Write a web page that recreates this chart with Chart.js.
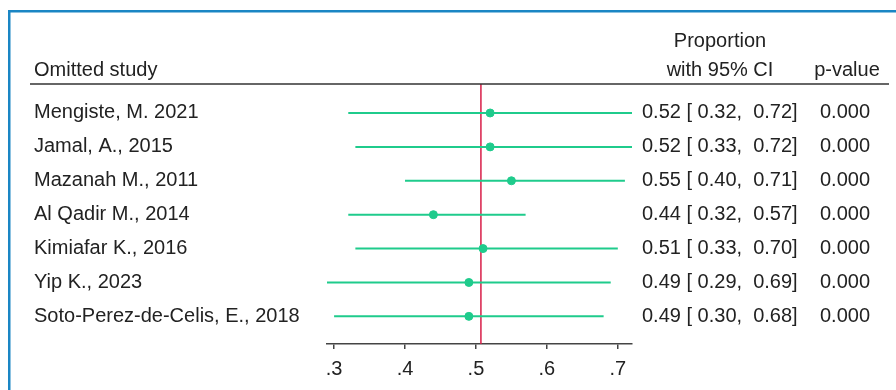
<!DOCTYPE html>
<html>
<head>
<meta charset="utf-8">
<script src="https://cdn.jsdelivr.net/npm/chart.js@4"></script>
<style>
  html, body { margin: 0; padding: 0; background: #fff; }
  #wrap { position: relative; width: 896px; height: 390px; }
  canvas { display: block; }
</style>
</head>
<body>
<div id="wrap"><canvas id="c" width="896" height="390"></canvas></div>
<script>
const studies = [
  "Mengiste, M. 2021",
  "Jamal, A., 2015",
  "Mazanah M., 2011",
  "Al Qadir M., 2014",
  "Kimiafar K., 2016",
  "Yip K., 2023",
  "Soto-Perez-de-Celis, E., 2018"
];
const estimates = [0.52, 0.52, 0.55, 0.44, 0.51, 0.49, 0.49];
const lowerCI   = [0.32, 0.33, 0.40, 0.32, 0.33, 0.29, 0.30];
const upperCI   = [0.72, 0.72, 0.71, 0.57, 0.70, 0.69, 0.68];
const pValues   = [0.000, 0.000, 0.000, 0.000, 0.000, 0.000, 0.000];
const overall   = 0.507;
const tickValues = [0.3, 0.4, 0.5, 0.6, 0.7];
const tickLabels = [".3", ".4", ".5", ".6", ".7"];
const headers = { study: "Omitted study", est1: "Proportion", est2: "with 95% CI", p: "p-value" };

const GREEN = "#1fcb8c";
const RED = "#d81f48";
const TEXT = "#222222";
const FAMILY = '"Liberation Sans", Arial, sans-serif';
const FONT = '20px ' + FAMILY;

const rows = studies.map((s, i) => i + 1);
const yMin = 0.145, yMax = 7.815;
const xMin = 0.29, xMax = 0.72;

const ciDatasets = studies.map((s, i) => ({
  type: "line",
  data: [{ x: lowerCI[i], y: rows[i] }, { x: upperCI[i], y: rows[i] }],
  borderColor: GREEN,
  borderWidth: 2,
  pointRadius: 0,
  order: 2
}));

const textPlugin = {
  id: "forestText",
  afterDraw(chart) {
    const ctx = chart.ctx;
    const ys = chart.scales.y;
    ctx.save();
    // blue frame
    ctx.fillStyle = "#1a86c4";
    ctx.fillRect(8, 10, 896 - 8, 2.5);
    ctx.fillRect(8, 10, 2.5, 390 - 10);
    // header rule
    ctx.strokeStyle = "#333";
    ctx.lineWidth = 1.5;
    ctx.beginPath();
    ctx.moveTo(30, chart.chartArea.top);
    ctx.lineTo(889, chart.chartArea.top);
    ctx.stroke();

    ctx.font = FONT;
    ctx.fillStyle = TEXT;
    ctx.textBaseline = "middle";
    ctx.textAlign = "left";
    ctx.fillText(headers.study, 34, 70);
    ctx.textAlign = "center";
    ctx.fillText(headers.est1, 720, 41);
    ctx.fillText(headers.est2, 720, 70);
    ctx.fillText(headers.p, 847, 70);

    studies.forEach((s, i) => {
      const y = ys.getPixelForValue(rows[i]);
      ctx.textAlign = "left";
      ctx.fillText(s, 34, y);
      const txt = estimates[i].toFixed(2) + " [ " + lowerCI[i].toFixed(2) + ",  " + upperCI[i].toFixed(2) + "]";
      ctx.fillText(txt, 642, y);
      ctx.textAlign = "right";
      ctx.fillText(pValues[i].toFixed(3), 870, y);
    });
    ctx.restore();
  }
};

new Chart(document.getElementById("c"), {
  type: "scatter",
  data: {
    datasets: [
      ...ciDatasets,
      {
        type: "line",
        data: [{ x: overall, y: yMin }, { x: overall, y: yMax }],
        borderColor: RED,
        borderWidth: 1.5,
        pointRadius: 0,
        order: 3
      },
      {
        type: "scatter",
        data: estimates.map((e, i) => ({ x: e, y: rows[i] })),
        backgroundColor: GREEN,
        borderColor: GREEN,
        pointRadius: 4,
        order: 1
      }
    ]
  },
  options: {
    responsive: false,
    animation: false,
    events: [],
    layout: { padding: { left: 327, right: 896 - 632, top: 84, bottom: 1 } },
    plugins: { legend: { display: false }, tooltip: { enabled: false } },
    scales: {
      x: {
        type: "linear",
        min: xMin,
        max: xMax,
        afterBuildTicks(scale) { scale.ticks = tickValues.map(v => ({ value: v })); },
        ticks: {
          font: { family: FAMILY, size: 20, lineHeight: 1.0 },
          color: TEXT,
          padding: 10,
          maxRotation: 0,
          autoSkip: false,
          callback(v) { const k = tickValues.findIndex(t => Math.abs(t - v) < 1e-9); return k >= 0 ? tickLabels[k] : ""; }
        },
        grid: { drawOnChartArea: false, drawTicks: true, tickLength: 5, color: "#444", lineWidth: 1.5 },
        border: { display: true, color: "#444", width: 1.5 }
      },
      y: {
        type: "linear",
        display: false,
        reverse: true,
        min: yMin,
        max: yMax
      }
    }
  },
  plugins: [textPlugin]
});
</script>
</body>
</html>
